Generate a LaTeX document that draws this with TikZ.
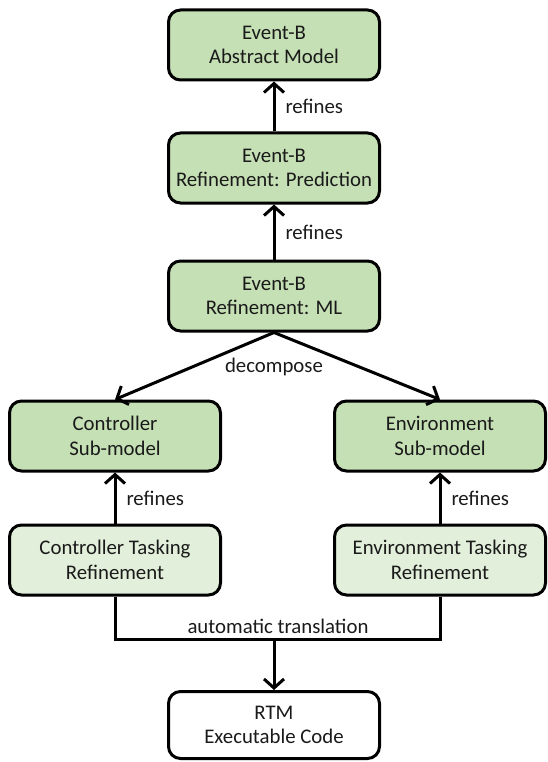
\documentclass[tikz,border=0pt]{standalone}
\usepackage{fontspec}
\setmainfont{Carlito}
\usetikzlibrary{arrows.meta}
\definecolor{boxgreen}{HTML}{C5E0B4}
\definecolor{lightgreen}{HTML}{E2EFDA}
\definecolor{txt}{HTML}{1A1A1A}
\begin{document}
\begin{tikzpicture}[x=1pt,y=-1pt,
  model/.style={draw=black, line width=3pt, rounded corners=12pt, minimum width=211pt, minimum height=70pt, align=center, font=\fontsize{20.8}{24.5}\selectfont, text=txt, inner sep=0pt},
  arr/.style={line width=3pt, -{Straight Barb[length=9pt,width=20pt]}},
  conn/.style={line width=3pt},
  lbl/.style={font=\fontsize{20.8}{24.5}\selectfont, text=txt, inner sep=2pt}]
\useasboundingbox (0,0) rectangle (547,762);
\node[model, fill=boxgreen] (abs) at (274,45) {Event-B\\Abstract Model};
\node[model, fill=boxgreen] (pred) at (274,168) {Event-B\\Refinement: Prediction};
\node[model, fill=boxgreen] (ml) at (274,296) {Event-B\\Refinement: ML};
\node[model, fill=boxgreen] (ctrl) at (115,436) {Controller\\Sub-model};
\node[model, fill=boxgreen] (env) at (440,436) {Environment\\Sub-model};
\node[model, fill=lightgreen] (ctask) at (115,560) {Controller Tasking\\Refinement};
\node[model, fill=lightgreen] (etask) at (440,560) {Environment Tasking\\Refinement};
\node[model, fill=white, minimum height=67pt] (rtm) at (274,725) {RTM\\Executable Code};

\draw[arr] (pred) -- node[lbl, right=8pt] {refines} (abs);
\draw[arr] (ml) -- node[lbl, right=8pt] {refines} (pred);
\draw[arr] (ml.south) -- (ctrl.north);
\draw[arr] (ml.south) -- (env.north);
\node[lbl] (dec) at (274,367) {decompose};
\draw[arr] (ctask) -- node[lbl, right=8pt] {refines} (ctrl);
\draw[arr] (etask) -- node[lbl, right=8pt] {refines} (env);

\coordinate (j) at (274,639);
\draw[conn] (ctask.south) |- (j) -| (etask.south);
\node[lbl, above=3pt] (at) at (278,639) {automatic translation};
\draw[arr] (j) -- (rtm.north);
\end{tikzpicture}
\end{document}
